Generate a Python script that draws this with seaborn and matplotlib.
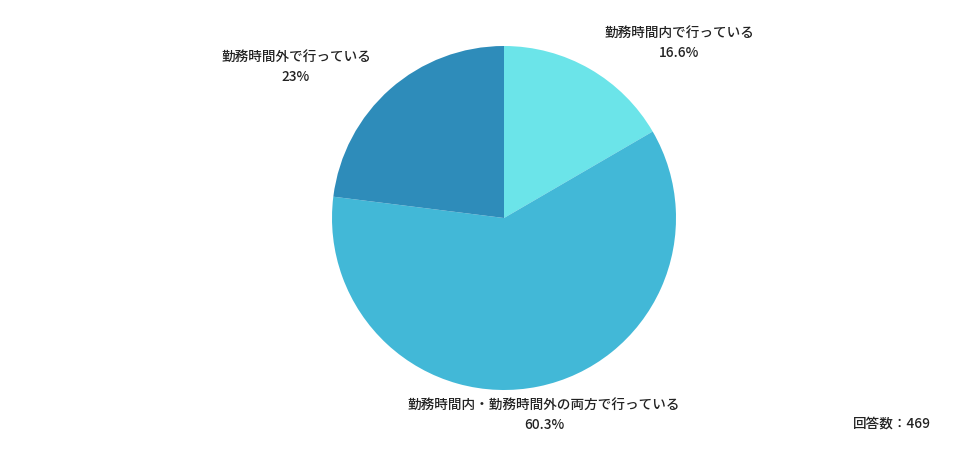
import matplotlib
matplotlib.use("Agg")
import matplotlib.pyplot as plt
import seaborn as sns

categories = ["勤務時間内で行っている", "勤務時間内・勤務時間外の両方で行っている", "勤務時間外で行っている"]
values = [16.6, 60.3, 23.0]
value_labels = ["16.6%", "60.3%", "23%"]
colors = ["#6BE4E9", "#42B8D7", "#2E8CBA"]
note = "回答数：469"

sns.set_theme(style="white")
plt.rcParams['font.family'] = ['Noto Sans CJK JP', 'DejaVu Sans']

W, H = 976, 459
fig = plt.figure(figsize=(W / 100, H / 100), dpi=100)
ax = fig.add_axes([0, 0, 1, 1])

pal = sns.color_palette(colors)
ax.pie(values, colors=pal, startangle=90, counterclock=False,
       center=(504, H - 218), radius=172, frame=True,
       wedgeprops=dict(linewidth=0))
ax.set_xlim(0, W)
ax.set_ylim(0, H)
ax.set_aspect("auto")
ax.axis("off")

label_pos = [(679, 33), (544, 405), (296, 57)]
fs = 9.8
tc = "#222222"
for cat, vl, (px, py) in zip(categories, value_labels, label_pos):
    ax.text(px, H - py, cat, ha="center", va="center", fontsize=fs, color=tc, fontweight="medium")
    ax.text(px, H - py - 20, vl, ha="center", va="center", fontsize=fs, color=tc, fontweight="medium")

ax.text(892, H - 424, note, ha="center", va="center", fontsize=fs, color=tc, fontweight="medium")

fig.savefig("out.png", dpi=100, facecolor="white")
